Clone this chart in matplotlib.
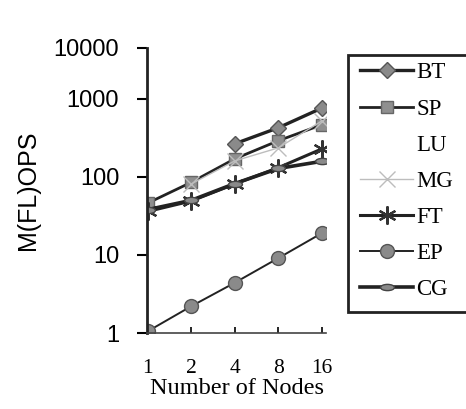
import numpy as np
import matplotlib
matplotlib.use("Agg")
import matplotlib.pyplot as plt
from matplotlib.path import Path
from matplotlib.patches import Polygon
from matplotlib.ticker import FixedLocator, NullLocator

nodes = [1, 2, 4, 8, 16]
node_labels = ["1", "2", "4", "8", "16"]

# M(FL)OPS per benchmark (None = not measured / not visible)
bt = [None, None, 265, 425, 760]
sp = [46, 85, 170, 290, 465]
lu = [None, None, None, None, None]
mg = [None, 81, 160, 235, 520]
ft = [36, 49, 81, 131, 228]
ep = [1.05, 2.2, 4.4, 9.1, 19]
cg = [38, 50, 82, 128, 158]

yticks = [1, 10, 100, 1000, 10000]
ytick_labels = ["1", "10", "100", "1000", "10000"]

# the original axis squeezes the top decade (1000-10000)
TOP_SQUEEZE = 0.65


def fwd(y):
    y = np.log10(np.clip(y, 1e-3, None))
    return np.where(y > 3, 3 + (y - 3) * TOP_SQUEEZE, y)


def inv(t):
    t = np.asarray(t, dtype=float)
    return 10 ** np.where(t > 3, 3 + (t - 3) / TOP_SQUEEZE, t)


ellipse = Path(Path.unit_circle().vertices * [1.0, 0.45], Path.unit_circle().codes)
asterisk = (6, 2, 0)

styles = {
    "BT": dict(color="#222222", lw=2.4, marker="D", ms=8, mfc="#8a8a8a", mec="#555555"),
    "SP": dict(color="#222222", lw=2.0, marker="s", ms=9, mfc="#8f8f8f", mec="#666666"),
    "LU": dict(color="none", lw=0, marker=None),
    "MG": dict(color="#bdbdbd", lw=1.0, marker="x", ms=11, mfc="#bdbdbd", mec="#bdbdbd", mew=1.0),
    "FT": dict(color="#222222", lw=2.2, marker=asterisk, ms=13, mfc="#333333", mec="#333333", mew=1.6),
    "EP": dict(color="#222222", lw=1.4, marker="o", ms=10, mfc="#8a8a8a", mec="#555555"),
    "CG": dict(color="#222222", lw=2.6, marker=ellipse, ms=10, mfc="#8a8a8a", mec="#444444"),
}
series = {"BT": bt, "SP": sp, "LU": lu, "MG": mg, "FT": ft, "EP": ep, "CG": cg}

W, H = 466, 409
fig = plt.figure(figsize=(W / 100, H / 100), dpi=100)
ax = fig.add_axes([147 / W, 1 - 333 / H, 0.385, 285 / H])

for name, vals in series.items():
    xs = [n for n, v in zip(nodes, vals) if v is not None]
    ys = [v for v in vals if v is not None]
    ax.plot(xs, ys, label=name, **styles[name])

ax.set_xscale("log", base=2)
ax.set_yscale("function", functions=(fwd, inv))
ax.set_xlim(0.99, 17.2)
ax.set_ylim(1, 10000)

ax.xaxis.set_major_locator(FixedLocator(nodes))
ax.set_xticklabels(node_labels, family="Liberation Serif", fontsize=15.5)
ax.xaxis.set_minor_locator(NullLocator())
ax.yaxis.set_major_locator(FixedLocator(yticks))
ax.set_yticklabels(ytick_labels, family="Liberation Sans", fontsize=17)
ax.yaxis.set_minor_locator(NullLocator())

ax.tick_params(axis="y", direction="out", length=7, width=1.5, pad=13)
ax.tick_params(axis="x", direction="in", length=4, width=1.2, pad=19)

ax.spines["top"].set_visible(False)
ax.spines["right"].set_visible(False)
ax.spines["left"].set_linewidth(2)
ax.spines["bottom"].set_linewidth(1.2)
ax.spines["left"].set_color("#222222")
ax.spines["bottom"].set_color("#444444")

ax.set_xlabel("Number of Nodes", family="Liberation Serif", fontsize=17.5, labelpad=0)
ax.set_ylabel("M(FL)OPS", family="Liberation Sans", fontsize=18, labelpad=10)

leg = fig.legend(loc="upper left", bbox_to_anchor=(353 / W, 1 - 55 / H),
                 prop={"family": "Liberation Serif", "size": 16.5},
                 handlelength=2.3, labelspacing=0.66, handletextpad=0.15,
                 borderpad=0.32, borderaxespad=0, frameon=False)

# legend box runs off the right edge of the picture
box = Polygon([(475 / W, 1 - 55 / H), (348 / W, 1 - 55 / H),
               (348 / W, 1 - 312 / H), (475 / W, 1 - 312 / H)],
              closed=False, fill=False, edgecolor="#222222", lw=2,
              transform=fig.transFigure)
fig.add_artist(box)

fig.savefig("out.png", dpi=100)
